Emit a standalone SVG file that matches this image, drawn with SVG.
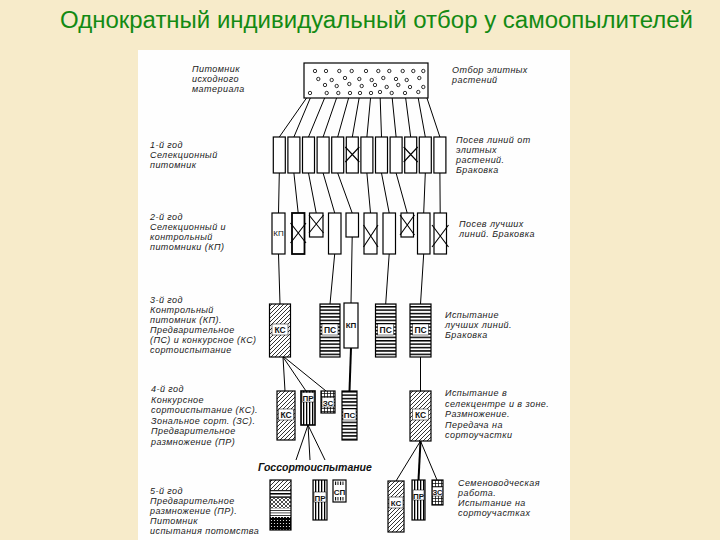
<svg xmlns="http://www.w3.org/2000/svg" width="720" height="540" viewBox="0 0 720 540">
<defs>
<style>
.t{font-family:"Liberation Sans",Arial,sans-serif;font-style:italic;font-size:9px;letter-spacing:0.45px;fill:#1a1a1a}
.g{font-family:"Liberation Sans",Arial,sans-serif;font-style:italic;font-weight:bold;font-size:10.5px;fill:#111}
.lb{font-family:"Liberation Sans",Arial,sans-serif;font-weight:bold;font-size:8.5px;text-anchor:middle;fill:#111}
.box{fill:#fff;stroke:#000;stroke-width:1.2}
.lbg{fill:#fff;stroke:#000;stroke-width:0.5}
.ln{stroke:#000;stroke-width:1;fill:none}
.lnb{stroke:#000;stroke-width:2;fill:none}
.x{stroke:#000;stroke-width:1.1;fill:none}
.dot{fill:#fff;stroke:#000;stroke-width:0.8}
</style>
<pattern id="hatch" patternUnits="userSpaceOnUse" width="4" height="4"><rect width="4" height="4" fill="#fff"/><path d="M-1,1 L1,-1 M0,4 L4,0 M3,5 L5,3" stroke="#000" stroke-width="0.8"/></pattern>
<pattern id="hs" patternUnits="userSpaceOnUse" width="4" height="3.4"><rect width="4" height="3.4" fill="#fff"/><rect width="4" height="1.5" fill="#000"/></pattern>
<pattern id="vs" patternUnits="userSpaceOnUse" width="3" height="4"><rect width="3" height="4" fill="#fff"/><rect width="1.3" height="4" fill="#000"/></pattern>
<pattern id="grid" patternUnits="userSpaceOnUse" width="3" height="3"><rect width="3" height="3" fill="#fff"/><path d="M0,0.4 H3 M0.4,0 V3" stroke="#000" stroke-width="0.8"/></pattern>
<pattern id="xh" patternUnits="userSpaceOnUse" width="4" height="4"><rect width="4" height="4" fill="#fff"/><path d="M0,0 L4,4 M4,0 L0,4" stroke="#000" stroke-width="0.7"/></pattern>
<pattern id="thin" patternUnits="userSpaceOnUse" width="4" height="2.5"><rect width="4" height="2.5" fill="#fff"/><rect width="4" height="0.7" fill="#000"/></pattern>
<pattern id="dk" patternUnits="userSpaceOnUse" width="3" height="3"><rect width="3" height="3" fill="#000"/><circle cx="1.5" cy="1.5" r="0.6" fill="#fff"/></pattern>
<pattern id="tick" patternUnits="userSpaceOnUse" width="2.5" height="4"><rect width="2.5" height="4" fill="#fff"/><rect width="1" height="4" fill="#000"/></pattern>
</defs>

<rect width="720" height="540" fill="#f7ebca"/>
<text x="60" y="28" textLength="633" lengthAdjust="spacingAndGlyphs" style="font-family:'Liberation Sans',Arial,sans-serif;font-size:23px;fill:#138a13">Однократный индивидуальный отбор у самоопылителей</text>
<rect x="138" y="50" width="432" height="490" fill="#fefefe"/>

<g id="labels">
<text class="t" x="192" y="72">Питомник</text>
<text class="t" x="192" y="82">исходного</text>
<text class="t" x="192" y="92">материала</text>
<text class="t" x="452" y="73">Отбор элитных</text>
<text class="t" x="452" y="83">растений</text>

<text class="t" x="150" y="148">1-й год</text>
<text class="t" x="150" y="158">Селекционный</text>
<text class="t" x="150" y="168">питомник</text>
<text class="t" x="456" y="143">Посев линий от</text>
<text class="t" x="456" y="153">элитных</text>
<text class="t" x="456" y="163">растений.</text>
<text class="t" x="456" y="173">Браковка</text>

<text class="t" x="150" y="220">2-й год</text>
<text class="t" x="150" y="230">Селекционный и</text>
<text class="t" x="150" y="240">контрольный</text>
<text class="t" x="150" y="250">питомники (КП)</text>
<text class="t" x="459" y="227">Посев лучших</text>
<text class="t" x="459" y="237">линий. Браковка</text>

<text class="t" x="150" y="303">3-й год</text>
<text class="t" x="150" y="313">Контрольный</text>
<text class="t" x="150" y="323">питомник (КП).</text>
<text class="t" x="150" y="333">Предварительное</text>
<text class="t" x="150" y="343">(ПС) и конкурсное (КС)</text>
<text class="t" x="150" y="353">сортоиспытание</text>
<text class="t" x="445" y="318">Испытание</text>
<text class="t" x="445" y="328">лучших линий.</text>
<text class="t" x="445" y="338">Браковка</text>

<text class="t" x="151" y="392">4-й год</text>
<text class="t" x="151" y="402.5">Конкурсное</text>
<text class="t" x="151" y="413">сортоиспытание (КС).</text>
<text class="t" x="151" y="423.5">Зональное сорт. (ЗС).</text>
<text class="t" x="151" y="434">Предварительное</text>
<text class="t" x="151" y="444.5">размножение (ПР)</text>
<text class="t" x="445" y="396">Испытание в</text>
<text class="t" x="445" y="406.5">селекцентре и в зоне.</text>
<text class="t" x="445" y="417">Размножение.</text>
<text class="t" x="445" y="427.5">Передача на</text>
<text class="t" x="445" y="438">сортоучастки</text>

<text class="g" x="258" y="471">Госсортоиспытание</text>
<text class="t" x="150" y="494">5-й год</text>
<text class="t" x="150" y="504">Предварительное</text>
<text class="t" x="150" y="514">размножение (ПР).</text>
<text class="t" x="150" y="524">Питомник</text>
<text class="t" x="150" y="534">испытания потомства</text>
<text class="t" x="458" y="486">Семеноводческая</text>
<text class="t" x="458" y="496">работа.</text>
<text class="t" x="458" y="506">Испытание на</text>
<text class="t" x="458" y="516">сортоучастках</text>
</g>

<g id="connectors">
<line class="ln" x1="310" y1="93" x2="279.3" y2="137"/>
<line class="ln" x1="318.3" y1="79" x2="293.9" y2="137"/>
<line class="ln" x1="326.7" y1="93" x2="308.5" y2="137"/>
<line class="ln" x1="338.3" y1="93" x2="323.1" y2="137"/>
<line class="ln" x1="350" y1="93" x2="337.7" y2="137"/>
<line class="ln" x1="360" y1="93" x2="352.3" y2="137"/>
<line class="ln" x1="371" y1="93" x2="366.9" y2="137"/>
<line class="ln" x1="380" y1="93" x2="381.5" y2="137"/>
<line class="ln" x1="391.7" y1="93" x2="396.1" y2="137"/>
<line class="ln" x1="405" y1="93" x2="410.7" y2="137"/>
<line class="ln" x1="413.3" y1="71" x2="425.3" y2="137"/>
<line class="ln" x1="423.3" y1="87" x2="439.9" y2="137"/>

<line class="ln" x1="279.3" y1="173" x2="278.5" y2="213"/>
<line class="ln" x1="293.9" y1="173" x2="298.2" y2="213"/>
<line class="ln" x1="308.5" y1="173" x2="316.2" y2="213"/>
<line class="ln" x1="323.1" y1="173" x2="334.7" y2="213"/>
<line class="ln" x1="337.7" y1="173" x2="352.2" y2="213"/>
<line class="ln" x1="366.9" y1="173" x2="370.5" y2="213"/>
<line class="ln" x1="381.5" y1="173" x2="389.2" y2="213"/>
<line class="ln" x1="396.1" y1="173" x2="407.2" y2="213"/>
<line class="ln" x1="425.3" y1="173" x2="423.7" y2="213"/>
<line class="ln" x1="439.9" y1="173" x2="440.2" y2="213"/>

<line class="ln" x1="278.5" y1="254" x2="280" y2="304"/>
<line class="ln" x1="334.7" y1="254" x2="330" y2="304"/>
<line class="ln" x1="352.2" y1="237" x2="351" y2="303"/>
<line class="ln" x1="389.2" y1="254" x2="385.7" y2="304"/>
<line class="ln" x1="423.7" y1="254" x2="420.5" y2="304"/>

<line class="ln" x1="283" y1="357" x2="285" y2="391"/>
<line class="ln" x1="283" y1="357" x2="306" y2="391"/>
<line class="ln" x1="284" y1="357" x2="326" y2="391"/>
<line class="lnb" x1="351" y1="348" x2="349.5" y2="391"/>
<line class="ln" x1="420.5" y1="357" x2="420.5" y2="391"/>

<line class="ln" x1="308" y1="425" x2="296" y2="460"/>
<line class="ln" x1="308" y1="425" x2="310" y2="460"/>
<line class="ln" x1="308" y1="425" x2="325" y2="460"/>
<line class="ln" x1="420.5" y1="441" x2="396" y2="481"/>
<line class="lnb" x1="420.5" y1="441" x2="418.5" y2="480"/>
<line class="ln" x1="420.5" y1="441" x2="437" y2="480"/>
</g>

<g id="seed-nursery">
<rect class="box" x="304" y="63" width="124" height="35"/>
<g>
<circle class="dot" cx="315" cy="71" r="1.7"/><circle class="dot" cx="326" cy="71" r="1.7"/><circle class="dot" cx="339.3" cy="71" r="1.7"/><circle class="dot" cx="351.7" cy="71" r="1.7"/><circle class="dot" cx="366" cy="71" r="1.7"/><circle class="dot" cx="378.3" cy="71" r="1.7"/><circle class="dot" cx="389.3" cy="71" r="1.7"/><circle class="dot" cx="402.7" cy="71" r="1.7"/><circle class="dot" cx="413.3" cy="71" r="1.7"/><circle class="dot" cx="423.3" cy="71" r="1.7"/>
<circle class="dot" cx="318.3" cy="79" r="1.7"/><circle class="dot" cx="331.7" cy="80" r="1.7"/><circle class="dot" cx="345" cy="78" r="1.7"/><circle class="dot" cx="359.3" cy="79" r="1.7"/><circle class="dot" cx="371.7" cy="80" r="1.7"/><circle class="dot" cx="383.3" cy="78" r="1.7"/><circle class="dot" cx="396" cy="79" r="1.7"/><circle class="dot" cx="406.7" cy="80" r="1.7"/><circle class="dot" cx="419.3" cy="78" r="1.7"/>
<circle class="dot" cx="325" cy="85" r="1.7"/><circle class="dot" cx="336.7" cy="86" r="1.7"/><circle class="dot" cx="349.3" cy="84" r="1.7"/><circle class="dot" cx="361.7" cy="86" r="1.7"/><circle class="dot" cx="375" cy="85" r="1.7"/><circle class="dot" cx="386.7" cy="87" r="1.7"/><circle class="dot" cx="398.3" cy="85" r="1.7"/><circle class="dot" cx="410" cy="87" r="1.7"/><circle class="dot" cx="423.3" cy="87" r="1.7"/>
<circle class="dot" cx="310" cy="93" r="1.7"/><circle class="dot" cx="326.7" cy="93" r="1.7"/><circle class="dot" cx="338.3" cy="93" r="1.7"/><circle class="dot" cx="350" cy="93" r="1.7"/><circle class="dot" cx="360" cy="93" r="1.7"/><circle class="dot" cx="371" cy="93" r="1.7"/><circle class="dot" cx="380" cy="92" r="1.7"/><circle class="dot" cx="391.7" cy="93" r="1.7"/><circle class="dot" cx="405" cy="93" r="1.7"/><circle class="dot" cx="418.3" cy="92" r="1.7"/>
</g>
</g>

<g id="year1">
<rect class="box" x="273.3" y="137" width="12" height="36"/>
<rect class="box" x="287.9" y="137" width="12" height="36"/>
<rect class="box" x="302.5" y="137" width="12" height="36"/>
<rect class="box" x="317.1" y="137" width="12" height="36"/>
<rect class="box" x="331.7" y="137" width="12" height="36"/>
<rect class="box" x="346.3" y="137" width="12" height="36"/>
<path class="x" d="M345.3,147 L359.3,162 M359.3,147 L345.3,162"/>
<rect class="box" x="360.9" y="137" width="12" height="36"/>
<rect class="box" x="375.5" y="137" width="12" height="36"/>
<rect class="box" x="390.1" y="137" width="12" height="36"/>
<rect class="box" x="404.7" y="137" width="12" height="36"/>
<path class="x" d="M403.7,147 L417.7,162 M417.7,147 L403.7,162"/>
<rect class="box" x="419.3" y="137" width="12" height="36"/>
<rect class="box" x="433.9" y="137" width="12" height="36"/>
</g>

<g id="year2">
<rect class="box" x="272" y="213" width="13" height="41"/>
<text class="lb" x="278.5" y="236" style="font-weight:normal;font-size:8px">КП</text>
<rect class="box" x="292" y="213" width="12.5" height="41" style="stroke-width:1.8"/>
<path class="x" d="M290.5,223 L306,243 M306,223 L290.5,243"/>
<rect class="box" x="309.5" y="213" width="13.5" height="24"/>
<path class="x" d="M309,215 L323.5,233 M323.5,215 L309,233"/>
<rect class="box" x="328.5" y="213" width="12.5" height="41"/>
<rect class="box" x="346" y="213" width="12.5" height="24"/>
<rect class="box" x="364" y="213" width="13" height="41"/>
<path class="x" d="M363.5,225 L378,247 M378,225 L363.5,247"/>
<rect class="box" x="383" y="213" width="12.5" height="41"/>
<rect class="box" x="401" y="213" width="12.5" height="24"/>
<path class="x" d="M400,215 L414.5,235 M414.5,215 L400,235"/>
<rect class="box" x="417.5" y="213" width="12.5" height="41"/>
<rect class="box" x="434" y="213" width="12.5" height="41"/>
<path class="x" d="M432,225 L448.5,247 M448.5,225 L432,247"/>
</g>

<g id="year3">
<rect x="269.5" y="304" width="21" height="53" fill="url(#hatch)" stroke="#000" stroke-width="1.2"/>
<rect class="lbg" x="272" y="324" width="16" height="11"/><text class="lb" x="280" y="332.5">КС</text>
<rect x="320" y="304" width="20" height="53" fill="url(#hs)" stroke="#000" stroke-width="1.2"/>
<rect class="lbg" x="322" y="324" width="16" height="11"/><text class="lb" x="330" y="332.5">ПС</text>
<rect class="box" x="344" y="303" width="14" height="45"/>
<text class="lb" x="351" y="328" style="font-size:8px">КП</text>
<rect x="375.5" y="304" width="20.5" height="53" fill="url(#hs)" stroke="#000" stroke-width="1.2"/>
<rect class="lbg" x="377.7" y="324" width="16" height="11"/><text class="lb" x="385.7" y="332.5">ПС</text>
<rect x="410" y="304" width="21" height="53" fill="url(#hs)" stroke="#000" stroke-width="1.2"/>
<rect class="lbg" x="412.5" y="324" width="16" height="11"/><text class="lb" x="420.5" y="332.5">ПС</text>
</g>

<g id="year4">
<rect x="277" y="391" width="18" height="49" fill="url(#hatch)" stroke="#000" stroke-width="1.2"/>
<rect class="lbg" x="278.5" y="409" width="15" height="11"/><text class="lb" x="286" y="417.5">КС</text>
<rect x="301" y="391" width="14" height="34" fill="url(#vs)" stroke="#000" stroke-width="1.6"/>
<rect class="lbg" x="302" y="392.5" width="12" height="9.5"/><text class="lb" x="308" y="400.5" style="font-size:8px">ПР</text>
<rect x="321" y="391" width="14" height="22" fill="url(#grid)" stroke="#000" stroke-width="1.2"/>
<rect class="lbg" x="322" y="397.5" width="12" height="9.5"/><text class="lb" x="328" y="405.5" style="font-size:8px">ЗС</text>
<rect x="342" y="391" width="15" height="49" fill="url(#hs)" stroke="#000" stroke-width="1.2"/>
<rect class="lbg" x="343" y="409" width="13" height="11"/><text class="lb" x="349.5" y="417.5" style="font-size:8px">ПС</text>
<rect x="410" y="391" width="21" height="50" fill="url(#hatch)" stroke="#000" stroke-width="1.2"/>
<rect class="lbg" x="412.5" y="409" width="16" height="11"/><text class="lb" x="420.5" y="417.5">КС</text>
</g>

<g id="year5">
<rect x="270" y="480" width="21" height="10" fill="url(#hatch)"/>
<rect x="270" y="490" width="21" height="8" fill="url(#hs)"/>
<rect x="270" y="498" width="21" height="10" fill="url(#xh)"/>
<rect x="270" y="508" width="21" height="9" fill="url(#thin)"/>
<rect x="270" y="517" width="21" height="13" fill="url(#dk)"/>
<rect x="270" y="480" width="21" height="50" fill="none" stroke="#000" stroke-width="1.2"/>

<rect x="313" y="480" width="14" height="40" fill="url(#vs)" stroke="#000" stroke-width="1.2"/>
<rect class="lbg" x="314" y="492" width="12" height="10"/><text class="lb" x="320" y="500.5" style="font-size:8px">ПР</text>

<rect class="box" x="333" y="480" width="13" height="22"/>
<rect x="334" y="481.5" width="11" height="3.5" fill="url(#tick)"/>
<rect x="334" y="497" width="11" height="3.5" fill="url(#tick)"/>
<text class="lb" x="339.5" y="494.5" style="font-size:8px">СП</text>

<rect x="388" y="481" width="16" height="51" fill="url(#hatch)" stroke="#000" stroke-width="1.2"/>
<rect class="lbg" x="389" y="497" width="14" height="11"/><text class="lb" x="396" y="505.5" style="font-size:8px">КС</text>

<rect x="412" y="480" width="13" height="40" fill="url(#vs)" stroke="#000" stroke-width="1.2"/>
<rect class="lbg" x="413" y="490" width="11" height="10"/><text class="lb" x="418.5" y="498.5" style="font-size:8px">ПР</text>

<rect x="432" y="480" width="11" height="25" fill="url(#grid)" stroke="#000" stroke-width="1.2"/>
<rect class="lbg" x="432.5" y="487" width="10" height="9"/><text class="lb" x="437.5" y="494.5" style="font-size:7.5px">ЗС</text>
</g>
</svg>
